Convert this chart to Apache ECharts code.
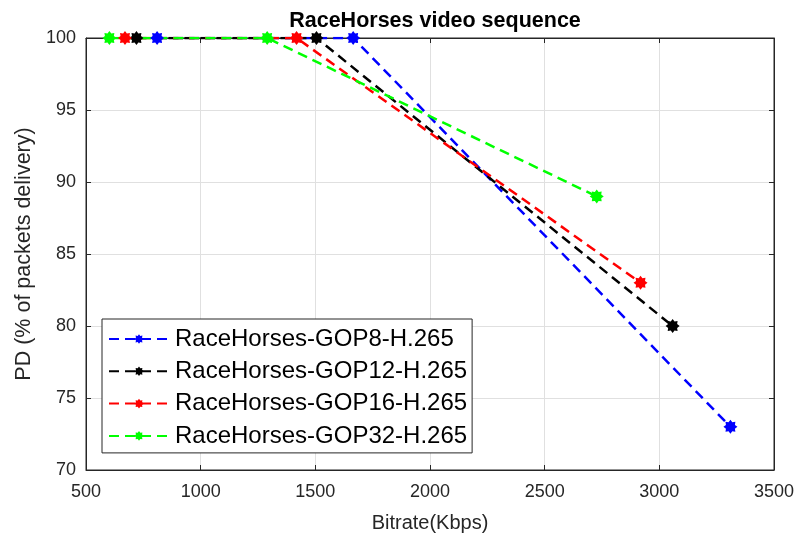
<!DOCTYPE html>
<html>
<head>
<meta charset="utf-8">
<script src="https://cdn.jsdelivr.net/npm/echarts@6/dist/echarts.min.js"></script>
<style>html,body{margin:0;padding:0;background:#fff}#c{width:797px;height:535px}</style>
</head>
<body>
<div id="c"></div>
<script>
const seriesNames = ['RaceHorses-GOP8-H.265','RaceHorses-GOP12-H.265','RaceHorses-GOP16-H.265','RaceHorses-GOP32-H.265'];
const seriesColors = ['#0000ff','#000000','#ff0000','#00ff00'];
const gop8 = [[810,100],[1665,100],[3310,73]];
const gop12 = [[720,100],[1505,100],[3058,80]];
const gop16 = [[670,100],[1418,100],[2918,83]];
const gop32 = [[602,100],[1290,100],[2727,89]];
const allData = [gop8, gop12, gop16, gop32];

const star = 'path://M0,-10 L2.7,-6.4 L7.07,-7.07 L6.4,-2.7 L10,0 L6.4,2.7 L7.07,7.07 L2.7,6.4 L0,10 L-2.7,6.4 L-7.07,7.07 L-6.4,2.7 L-10,0 L-6.4,-2.7 L-7.07,-7.07 L-2.7,-6.4 Z';

const chart = echarts.init(document.getElementById('c'));
const axisCol = '#262626';
const FF = 'Liberation Sans, Arial, Helvetica, sans-serif';
const labelFont = {fontFamily:FF, fontSize:18, color:axisCol, formatter:(v)=>String(v)};
chart.setOption({
  animation:false,
  backgroundColor:'#fff',
  title:{text:'RaceHorses video sequence', left:430, top:5, textAlign:'center',
    textStyle:{fontFamily:FF, fontSize:21.5, fontWeight:'bold', color:'#000'}},
  grid:{left:86, right:23, top:38, bottom:65, show:true, borderColor:axisCol, borderWidth:1,
    containLabel:false, outerBoundsMode:'none'},
  legend:{
    orient:'vertical', left:102, top:319, itemWidth:60, itemHeight:12, itemGap:8.3,
    padding:[8,5,5,6], backgroundColor:'#fff', borderColor:axisCol, borderWidth:1,
    textStyle:{fontFamily:FF, fontSize:24, color:'#000', padding:[0,0,0,1]},
    data:seriesNames
  },
  xAxis:[{type:'value', min:500, max:3500, interval:500, position:'bottom',
    name:'Bitrate(Kbps)', nameLocation:'middle', nameGap:43,
    nameTextStyle:{fontFamily:FF, fontSize:20, color:axisCol},
    axisLine:{show:true, lineStyle:{color:axisCol}},
    axisTick:{show:true, inside:true, length:5, lineStyle:{color:axisCol}},
    axisLabel:Object.assign({margin:13}, labelFont),
    splitLine:{show:true, lineStyle:{color:'#e0e0e0'}}},
   {type:'value', min:500, max:3500, interval:500, position:'top',
    axisLine:{show:true, lineStyle:{color:axisCol}},
    axisTick:{show:true, inside:true, length:5, lineStyle:{color:axisCol}},
    axisLabel:{show:false}, splitLine:{show:false}}],
  yAxis:[{type:'value', min:70, max:100, interval:5, position:'left',
    name:'PD (% of packets delivery)', nameLocation:'middle', nameGap:49,
    nameTextStyle:{fontFamily:FF, fontSize:21.5, color:axisCol},
    axisLine:{show:true, lineStyle:{color:axisCol}},
    axisTick:{show:true, inside:true, length:5, lineStyle:{color:axisCol}},
    axisLabel:Object.assign({margin:10}, labelFont),
    splitLine:{show:true, lineStyle:{color:'#e0e0e0'}}},
   {type:'value', min:70, max:100, interval:5, position:'right',
    axisLine:{show:true, lineStyle:{color:axisCol}},
    axisTick:{show:true, inside:true, length:5, lineStyle:{color:axisCol}},
    axisLabel:{show:false}, splitLine:{show:false}}],
  series: allData.map((d,i)=>({
    name:seriesNames[i], type:'line', data:d, xAxisIndex:0, yAxisIndex:0,
    symbol:star, symbolSize:14, showAllSymbol:true,
    lineStyle:{color:seriesColors[i], width:2.5, type:[10,6]},
    itemStyle:{color:seriesColors[i], borderWidth:0},
    emphasis:{disabled:true}
  }))
});
</script>
</body>
</html>
